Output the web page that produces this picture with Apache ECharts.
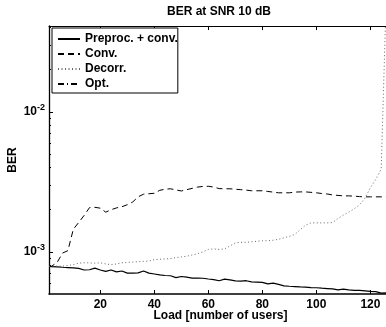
<!DOCTYPE html>
<html lang="en">
<head>
<meta charset="utf-8">
<title>BER at SNR 10 dB</title>
<style>
    html, body { margin: 0; padding: 0; background: #fff; }
    #ber-chart { width: 386px; height: 327px; }
</style>
</head>
<body>
<div id="ber-chart"></div>
<script src="https://cdn.jsdelivr.net/npm/echarts@6.0.0/dist/echarts.min.js"></script>
<script type="text/javascript">

// number of users
var loads = [1, 2, 4, 6, 8, 10, 12, 14, 16, 18, 20, 22, 24, 26, 28, 30, 32, 34, 36, 38, 40,
    42, 44, 46, 48, 50, 52, 54, 56, 58, 60, 62, 64, 66, 68, 70, 72, 74, 76, 78, 80,
    82, 84, 86, 88, 90, 92, 94, 96, 98, 100, 102, 104, 106, 108, 110, 112, 114, 116, 118, 120,
    122, 124, 126];

// BER curves
var preprocConv = [7.86e-4, 7.85e-4, 7.82e-4, 7.76e-4, 7.72e-4, 7.68e-4, 7.62e-4, 7.42e-4, 7.45e-4, 7.65e-4, 7.42e-4,
    7.25e-4, 7.42e-4, 7.2e-4, 7.3e-4, 7.05e-4, 7.05e-4, 7.08e-4, 7.3e-4, 7.05e-4, 6.95e-4,
    6.85e-4, 6.78e-4, 6.75e-4, 6.55e-4, 6.67e-4, 6.6e-4, 6.5e-4, 6.5e-4, 6.48e-4, 6.4e-4,
    6.33e-4, 6.22e-4, 6.38e-4, 6.3e-4, 6.2e-4, 6.18e-4, 6.22e-4, 6.1e-4, 6.08e-4, 6.05e-4,
    5.9e-4, 5.98e-4, 5.85e-4, 5.72e-4, 5.68e-4, 5.65e-4, 5.62e-4, 5.6e-4, 5.56e-4, 5.54e-4,
    5.5e-4, 5.47e-4, 5.44e-4, 5.35e-4, 5.42e-4, 5.35e-4, 5.3e-4, 5.3e-4, 5.26e-4, 5.22e-4,
    5.2e-4, 5.07e-4, 5.1e-4];
var conv = [7.9e-4, 7.9e-4, 8.4e-4, 9.8e-4, 1.02e-3, 1.45e-3, 1.62e-3, 1.82e-3, 2.07e-3, 2.08e-3, 2.05e-3,
    1.92e-3, 2.0e-3, 2.06e-3, 2.1e-3, 2.17e-3, 2.27e-3, 2.47e-3, 2.58e-3, 2.6e-3, 2.62e-3,
    2.75e-3, 2.8e-3, 2.82e-3, 2.77e-3, 2.72e-3, 2.78e-3, 2.84e-3, 2.9e-3, 2.93e-3, 2.94e-3,
    2.9e-3, 2.83e-3, 2.82e-3, 2.82e-3, 2.8e-3, 2.78e-3, 2.76e-3, 2.73e-3, 2.73e-3, 2.73e-3,
    2.7e-3, 2.67e-3, 2.64e-3, 2.64e-3, 2.64e-3, 2.67e-3, 2.68e-3, 2.68e-3, 2.66e-3, 2.64e-3,
    2.61e-3, 2.59e-3, 2.55e-3, 2.53e-3, 2.51e-3, 2.51e-3, 2.5e-3, 2.48e-3, 2.47e-3, 2.47e-3,
    2.47e-3, 2.47e-3, 2.46e-3];
var decorr = [7.9e-4, 7.9e-4, 7.9e-4, 7.9e-4, 8.0e-4, 8.1e-4, 8.3e-4, 8.35e-4, 8.35e-4, 8.3e-4, 8.35e-4,
    8.2e-4, 8.1e-4, 8.2e-4, 8.35e-4, 8.4e-4, 8.45e-4, 8.5e-4, 8.55e-4, 8.6e-4, 8.8e-4,
    8.85e-4, 8.9e-4, 8.95e-4, 9.1e-4, 9.2e-4, 9.3e-4, 9.5e-4, 9.7e-4, 1.0e-3, 1.04e-3,
    1.05e-3, 1.04e-3, 1.05e-3, 1.1e-3, 1.16e-3, 1.17e-3, 1.17e-3, 1.18e-3, 1.19e-3, 1.2e-3,
    1.2e-3, 1.21e-3, 1.23e-3, 1.26e-3, 1.29e-3, 1.33e-3, 1.44e-3, 1.55e-3, 1.61e-3, 1.61e-3,
    1.61e-3, 1.61e-3, 1.62e-3, 1.73e-3, 1.83e-3, 1.92e-3, 2.03e-3, 2.17e-3, 2.42e-3, 2.87e-3,
    3.3e-3, 3.9e-3, 8.0e-2];
var opt = [];  // not visible inside the plotted range

var xTicks = [20, 40, 60, 80, 100, 120];
var yMajor = [1e-3, 1e-2];
var yMinor = [6e-4, 7e-4, 8e-4, 9e-4, 2e-3, 3e-3, 4e-3, 5e-3, 6e-3, 7e-3, 8e-3, 9e-3, 2e-2, 3e-2, 4e-2];

var font = "'Liberation Sans', Arial, Helvetica, sans-serif";
var boldText = { fontFamily: font, fontWeight: 'bold', fontSize: 12, color: '#000' };

function pairs(ys) {
    return ys.map((y, i) => [loads[i], y]);
}

var berChart = echarts.init(document.getElementById('ber-chart'));
var berOption = {
    animation: false,
    backgroundColor: '#fff',
    title: {
        text: 'BER at SNR 10 dB',
        left: 219,
        textAlign: 'center',
        top: 6,
        padding: 0,
        textStyle: boldText
    },
    legend: {
        orient: 'vertical',
        left: 52,
        top: 28,
        padding: [4, 0, 2, 5],
        itemWidth: 22,
        itemHeight: 12,
        itemGap: 1,
        backgroundColor: '#fff',
        borderColor: '#000',
        borderWidth: 1,
        borderRadius: 0,
        itemStyle: { opacity: 0 },
        textStyle: Object.assign({ lineHeight: 14 }, boldText),
        data: ['Preproc. + conv.', 'Conv.', 'Decorr.', 'Opt.']
    },
    grid: {
        left: 49,
        top: 26,
        right: -6,
        bottom: 33,
        containLabel: false,
        outerBoundsMode: 'none'
    },
    xAxis: [{
        type: 'value',
        min: 1,
        max: 128,
        name: 'Load [number of users]',
        nameLocation: 'middle',
        nameGap: 16,
        nameMoveOverlap: false,
        nameTextStyle: boldText,
        axisLine: { lineStyle: { color: '#000', width: 1.5 } },
        axisTick: { inside: true, length: 4, customValues: xTicks, lineStyle: { color: '#000' } },
        axisLabel: Object.assign({ margin: 5, customValues: xTicks }, boldText),
        splitLine: { show: false }
    }, {
        type: 'value',
        position: 'top',
        min: 1,
        max: 128,
        axisLine: { lineStyle: { color: '#000', width: 1 } },
        axisTick: { inside: true, length: 4, customValues: xTicks, lineStyle: { color: '#000' } },
        axisLabel: { show: false },
        splitLine: { show: false }
    }],
    yAxis: [{
        type: 'log',
        logBase: 10,
        min: 5e-4,
        max: 4.1e-2,
        name: 'BER',
        nameLocation: 'middle',
        nameGap: 30,
        nameMoveOverlap: false,
        nameTextStyle: boldText,
        axisLine: { show: true, lineStyle: { color: '#000', width: 1.3 } },
        axisTick: { inside: true, length: 4, customValues: yMajor, lineStyle: { color: '#000' } },
        axisLabel: {
            margin: 4,
            customValues: yMajor,
            formatter: function (v) {
                return '{b|10}{sup|' + Math.round(Math.log10(v)) + '}';
            },
            rich: {
                b: { fontFamily: font, fontWeight: 'bold', fontSize: 12, color: '#000' },
                sup: { fontFamily: font, fontWeight: 'bold', fontSize: 9, color: '#000', padding: [0, 0, 9, 0] }
            }
        },
        splitLine: { show: false }
    }, {
        // minor ticks of the log axis
        type: 'log',
        logBase: 10,
        min: 5e-4,
        max: 4.1e-2,
        position: 'left',
        axisLine: { show: false },
        axisTick: { show: true, inside: true, length: 2, customValues: yMinor, lineStyle: { color: '#000' } },
        axisLabel: { show: false },
        splitLine: { show: false }
    }],
    series: [{
        name: 'Preproc. + conv.',
        type: 'line',
        symbol: 'none',
        color: '#000',
        data: pairs(preprocConv),
        lineStyle: { color: '#000', width: 1.2, type: 'solid' }
    }, {
        name: 'Conv.',
        type: 'line',
        symbol: 'none',
        color: '#000',
        data: pairs(conv),
        lineStyle: { color: '#000', width: 1, type: [6, 4] }
    }, {
        name: 'Decorr.',
        type: 'line',
        symbol: 'none',
        color: '#666',
        data: pairs(decorr),
        lineStyle: { color: '#666', width: 1, type: [1, 2.5] }
    }, {
        name: 'Opt.',
        type: 'line',
        symbol: 'none',
        color: '#000',
        data: pairs(opt),
        lineStyle: { color: '#000', width: 1, type: [6, 3, 1, 3] }
    }]
};
berChart.setOption(berOption);

</script>
</body>
</html>
